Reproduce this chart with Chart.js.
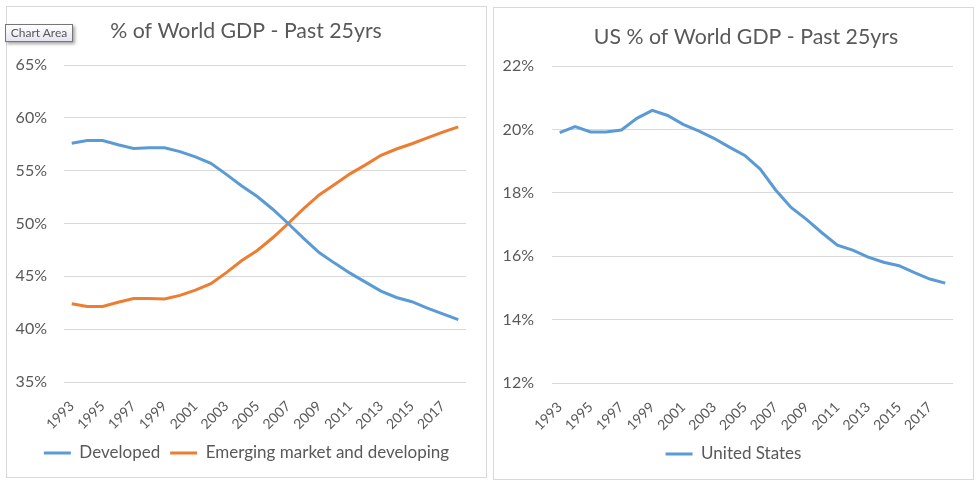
<!DOCTYPE html>
<html><head><meta charset="utf-8">
<script src="https://cdn.jsdelivr.net/npm/chart.js@4.4.0/dist/chart.umd.min.js"></script>
<style>
html,body{margin:0;padding:0;background:#fff;width:979px;height:485px;overflow:hidden;}
.wrap{position:absolute;}
.frame{position:absolute;border:1px solid #d9d9d9;box-sizing:border-box;pointer-events:none;}
#w1{left:6px;top:6px;width:481px;height:472px}
#w2{left:493px;top:7px;width:481px;height:473px}
canvas{display:block}
#tip{position:absolute;left:5px;top:24px;width:68px;height:18px;box-sizing:border-box;border:1px solid #767676;
background:linear-gradient(#ffffff,#e4e5f0);box-shadow:2px 2px 3px rgba(0,0,0,0.35);
font:12px Lato, sans-serif;color:#575757;line-height:16px;text-align:center;z-index:5;white-space:nowrap}
</style></head>
<body>
<div class="wrap" id="w1"><canvas id="c1" width="481" height="472"></canvas></div>
<div class="frame" style="left:6px;top:6px;width:481px;height:472px"></div>
<div class="wrap" id="w2"><canvas id="c2" width="481" height="473"></canvas></div>
<div class="frame" style="left:493px;top:7px;width:481px;height:473px"></div>
<div id="tip">Chart Area</div>
<script>
const years = ["1993","1994","1995","1996","1997","1998","1999","2000","2001","2002","2003","2004","2005","2006","2007","2008","2009","2010","2011","2012","2013","2014","2015","2016","2017","2018"];
const developed = [57.6,57.85,57.85,57.45,57.1,57.17,57.17,56.8,56.3,55.7,54.65,53.55,52.55,51.35,50.0,48.6,47.25,46.25,45.3,44.45,43.6,43.0,42.6,42.0,41.45,40.9];
const emerging = [42.4,42.15,42.15,42.55,42.9,42.9,42.85,43.2,43.7,44.3,45.35,46.5,47.45,48.65,50.0,51.4,52.7,53.7,54.7,55.55,56.45,57.05,57.55,58.1,58.65,59.15];
const unitedStates = [19.9,20.09,19.92,19.92,19.98,20.35,20.6,20.44,20.16,19.95,19.72,19.44,19.18,18.75,18.09,17.54,17.16,16.74,16.35,16.19,15.97,15.81,15.7,15.48,15.28,15.15];
const leftTicks = [35,40,45,50,55,60,65];
const rightTicks = [12,14,16,18,20,22];
const leftTitle = "% of World GDP - Past 25yrs";
const rightTitle = "US % of World GDP - Past 25yrs";

const BLUE = "#5B9BD5", ORANGE = "#ED7D31", GRID = "#d9d9d9", TXT = "#595959";
const FONT = "Lato, 'Open Sans', sans-serif";

const titlePlugin = {
  id: 'panelTitle',
  afterDraw(chart, args, opts) {
    const ctx = chart.ctx;
    ctx.save();
    ctx.font = opts.size + "px " + FONT;
    ctx.fillStyle = TXT;
    ctx.textAlign = 'center';
    ctx.textBaseline = 'middle';
    ctx.fillText(opts.text, opts.x, opts.y);
    ctx.restore();
  }
};

function makeChart(id, datasets, ticks, title, cfg) {
  return new Chart(document.getElementById(id), {
    type: 'line',
    data: {
      labels: years,
      datasets: datasets.map(d => ({
        label: d.label, data: d.data, borderColor: d.color, backgroundColor: d.color,
        borderWidth: 3, pointRadius: 0, tension: 0, fill: false
      }))
    },
    plugins: [titlePlugin],
    options: {
      responsive: false, animation: false,
      layout: { padding: { top: 59, right: 0, left: 0, bottom: cfg.bottom } },
      plugins: {
        tooltip: { enabled: false },
        panelTitle: { text: title, x: cfg.tx, y: cfg.ty, size: 21.3 },
        legend: {
          position: 'bottom',
          labels: {
            boxWidth: 27, boxHeight: 3, padding: 10, color: TXT,
            font: { family: FONT, size: 17 },
            generateLabels(chart) {
              return Chart.defaults.plugins.legend.labels.generateLabels(chart).map(l => Object.assign(l, { lineWidth: 0, fillStyle: l.strokeStyle }));
            }
          }
        }
      },
      scales: {
        x: {
          offset: true,
          grid: { display: false, drawTicks: false },
          border: { display: false },
          ticks: {
            autoSkip: false, minRotation: 45, maxRotation: 45, padding: 16,
            color: TXT, font: { family: FONT, size: 14 },
            callback(v, i) { return i % 2 === 0 ? years[i] : ''; }
          },
          afterFit(s) { s.height = 52.5; }
        },
        y: {
          min: ticks[0], max: ticks[ticks.length - 1],
          afterBuildTicks(s) { s.ticks = ticks.map(v => ({ value: v })); },
          grid: { color: GRID, lineWidth: 1, drawTicks: false },
          border: { display: false },
          ticks: {
            padding: cfg.ypad, color: TXT, font: { family: FONT, size: 16 },
            callback(v) { return v + '%'; }
          },
          afterFit(s) { s.width = cfg.yw; }
        },
        spacer: {
          type: 'linear', position: 'right', display: true,
          grid: { display: false, drawTicks: false },
          border: { display: false },
          ticks: { display: false },
          afterFit(s) { s.width = 21; }
        }
      }
    }
  });
}

makeChart('c1', [
  { label: 'Developed', data: developed, color: BLUE },
  { label: 'Emerging market and developing', data: emerging, color: ORANGE }
], leftTicks, leftTitle, { bottom: 6.5, tx: 240, ty: 25, ypad: 17, yw: 58 });

makeChart('c2', [
  { label: 'United States', data: unitedStates, color: BLUE }
], rightTicks, rightTitle, { bottom: 7.5, tx: 253, ty: 30, ypad: 18, yw: 59 });
</script>
</body></html>
